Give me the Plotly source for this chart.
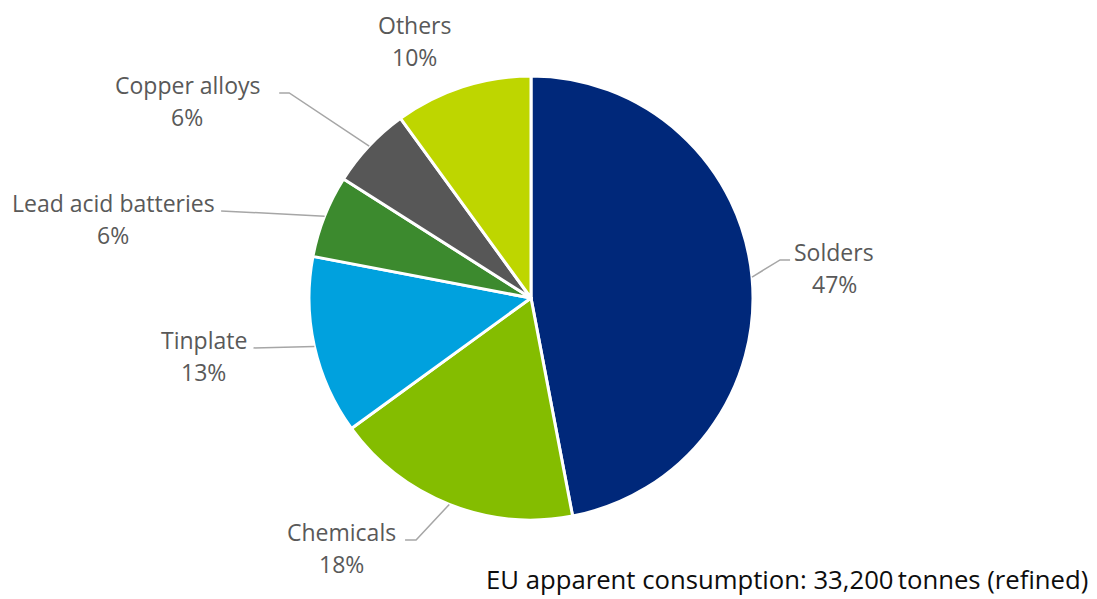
import math
import plotly.graph_objects as go

# ---------------- data ----------------
labels = ["Solders", "Chemicals", "Tinplate", "Lead acid batteries", "Copper alloys", "Others"]
values = [47, 18, 13, 6, 6, 10]
footnote = "EU apparent consumption: 33,200\u2009tonnes (refined)"

# ---------------- style ----------------
colors = ["#00287A", "#84BD00", "#00A1DE", "#3C8A2E", "#575757", "#BED600"]
W, H = 1097, 599
CX, CY, R = 531, 298, 222          # pie centre / radius in pixels
FONT = "Open Sans"
LABEL_SIZE = 23
LABEL_COLOR = "#595959"
LINE_COLOR = "#A6A6A6"
# leader style per slice: (elbow radius factor, elbow angle shift, horizontal tail, label centre dx from tail end)
LEADER = [
    (1.135, -3.3, 10, 44),
    (1.207, 3.8, -11, -64),
    (1.27, 2.4, 0, -50),
    (1.45, -5.9, 0, -108),
    (1.428, -2.9, -10, -92),
    None,
]
OTHERS_LABEL = (1.27, -6.3)
LINE1_DY, LINE2_DY = -8, 24


def px(x, y):
    return x / W, 1 - y / H


def polar(r, ang):
    a = math.radians(ang)
    return CX + r * math.sin(a), CY - r * math.cos(a)


total = sum(values)
fig = go.Figure(go.Pie(
    labels=labels, values=values, sort=False, direction="clockwise", rotation=0,
    marker=dict(colors=colors, line=dict(color="white", width=3)),
    textinfo="none", hoverinfo="label+percent", showlegend=False,
    domain=dict(x=[(CX - R) / W, (CX + R) / W], y=[1 - (CY + R) / H, 1 - (CY - R) / H]),
))

shapes, annotations = [], []
cum = 0
for i, (lab, v) in enumerate(zip(labels, values)):
    mid = (cum + v / 2) / total * 360
    cum += v
    pct = f"{round(v / total * 100)}%"
    st = LEADER[i]
    if st is not None:
        rf, dang, tail, ldx = st
        x0, y0 = polar(R, mid)
        x1, y1 = polar(R * rf, mid + dang)
        x2, y2 = x1 + tail, y1
        path_pts = [px(x0, y0), px(x1, y1), px(x2, y2)]
        path = "M " + " L ".join(f"{a},{b}" for a, b in path_pts)
        shapes.append(dict(type="path", path=path, xref="paper", yref="paper",
                           line=dict(color=LINE_COLOR, width=1.5)))
        lx, ly = x2 + ldx, y1
    else:
        rf, dang = OTHERS_LABEL
        lx, ly = polar(R * rf, mid + dang)
        ly = ly - 8
    for txt, dy in ((lab, LINE1_DY), (pct, LINE2_DY)):
        ax, ay = px(lx, ly + dy)
        annotations.append(dict(text=txt, x=ax, y=ay, xref="paper", yref="paper",
                                xanchor="center", yanchor="middle", showarrow=False,
                                font=dict(family=FONT, size=LABEL_SIZE, color=LABEL_COLOR)))

fx, fy = px(1090, 599)
annotations.append(dict(text=footnote, x=fx, y=fy, xref="paper", yref="paper",
                        xanchor="right", yanchor="bottom", showarrow=False,
                        font=dict(family=FONT, size=25.7, color="#0D0D0D")))

fig.update_layout(width=W, height=H, margin=dict(l=0, r=0, t=0, b=0),
                  paper_bgcolor="white", plot_bgcolor="white",
                  shapes=shapes, annotations=annotations)
fig.write_html("out.html", config={"displayModeBar": False},
               post_script="document.body.style.margin='0';")
